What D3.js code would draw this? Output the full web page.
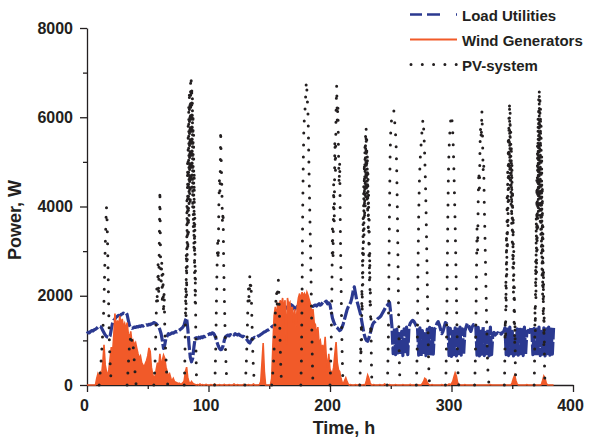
<!DOCTYPE html>
<html>
<head>
<meta charset="utf-8">
<script src="https://cdn.jsdelivr.net/npm/d3@7"></script>
<style>
  body { margin: 0; background: #fff; }
  svg text { font-family: Arial, "Liberation Sans", sans-serif; font-weight: bold; fill: #231f20; }
</style>
</head>
<body>
<div id="chart"></div>
<script>
// hourly load, W (index = hour)
const loadW = [
  1150,1180,1170,1200,1220,1210,1240,1250,1270,1300,
  1320,1310,1280,1220,1170,1120,1090,1070,1060,1100,
  1250,1380,1450,1480,1520,1540,1560,1550,1580,1590,
  1610,1600,1620,1580,1450,1330,1290,1270,1280,1300,
  1290,1310,1300,1320,1310,1330,1320,1340,1330,1350,
  1340,1360,1350,1370,1380,1400,1390,1370,1340,1300,
  1240,1150,1000,820,900,1050,1100,1150,1130,1150,
  1170,1160,1180,1200,1190,1210,1230,1250,1270,1300,
  1350,1450,1500,1250,900,620,520,600,850,1050,
  1060,1040,1070,1050,1080,1060,1090,1080,1100,1120,
  1130,1150,1140,1170,1160,1120,1050,960,880,820,
  790,800,880,1000,1080,1100,1120,1100,1130,1110,
  1140,1120,1150,1130,1120,1140,1110,1100,1080,1090,
  1060,1040,1000,960,940,990,1040,1050,1070,1060,
  1080,1100,1110,1130,1150,1170,1190,1200,1220,1230,
  1250,1270,1300,1320,1330,1400,1500,1580,1620,1650,
  1680,1700,1720,1700,1730,1750,1720,1760,1800,1780,
  1750,1700,1730,1760,1780,1750,1770,1790,1760,1780,
  1800,1770,1790,1750,1770,1800,1760,1780,1790,1770,
  1800,1820,1790,1810,1850,1830,1860,1880,1820,1840,
  1800,1650,1500,1420,1350,1300,1280,1250,1220,1240,
  1300,1380,1480,1580,1680,1750,1800,1850,1950,2100,
  2200,2050,1900,1800,1700,1600,1450,1300,1150,1050,
  1000,980,1050,1150,1250,1350,1400,1420,1450,1480,
  1500,1520,1550,1600,1650,1700,1750,1780,1820,1850,
  1600,
  1300,700,1280,680,1250,720,1150,690,1200,660,1260,700,1300,680,
  1300,1380,1420,1450,1430,1380,1320,
  1300,670,1280,650,1220,690,1150,660,1250,700,1290,650,1270,690,
  1250,1300,1380,1420,1350,1250,1150,1200,1300,1400,1380,
  1300,660,1270,640,1200,680,1280,650,1250,700,1300,670,1260,690,
  1200,1300,1380,1350,1250,1200,1300,1350,1300,
  1320,670,1290,650,1240,690,1300,660,1180,700,1260,650,1300,680,
  1150,1180,1120,1150,1170,1130,1160,1140,1180,1200,
  1280,680,1250,660,1300,700,1200,650,1150,690,1260,670,1290,700,1240,660,1300,690,
  1200,1220,1180,1250,
  1300,680,1270,650,1250,700,1300,660,1200,690,1280,650,1260,700,1300,670,1250,690,1280
];

// hourly wind generator output, W
const windW = [
  0,0,0,0,0,0,0,0,150,250,
  180,280,220,500,900,450,300,200,350,600,
  850,700,1100,1600,1250,1450,1300,1550,1350,1480,
  1300,1380,1250,1400,1150,1050,1200,950,1000,900,
  950,820,700,600,650,500,450,400,480,550,
  650,830,750,400,250,150,200,350,500,400,
  700,450,550,670,600,400,300,200,250,150,
  100,150,80,60,50,30,40,20,30,50,
  100,300,400,150,60,30,80,40,20,10,
  0,10,0,20,0,10,0,0,15,0,
  0,0,10,0,0,20,0,0,0,10,
  0,0,0,15,0,0,0,10,0,0,
  0,20,0,0,10,0,0,0,0,15,
  0,0,0,10,0,0,0,20,0,0,
  0,0,10,80,500,940,300,0,0,0,
  0,0,150,900,1550,1750,1500,1850,1650,1900,
  1800,1950,1700,1900,900,1950,1800,1850,1600,1750,
  1400,1700,1300,1750,1950,2050,1900,2080,2000,2050,
  1950,2080,2000,1900,1800,1600,1700,1400,1350,1100,
  1300,950,1000,800,900,700,1080,600,400,700,
  350,300,250,400,700,960,500,340,300,150,
  60,30,100,160,80,20,0,10,0,0,
  0,10,0,0,15,0,0,0,10,0,
  100,220,150,50,0,0,10,0,0,0,
  0,10,0,0,0,20,0,0,0,10,
  0,0,0,0,10,0,0,0,0,0,
  10,0,0,0,0,0,15,0,0,0,
  0,0,10,0,0,0,30,80,150,130,
  60,20,0,0,10,0,0,0,0,0,
  0,0,10,0,0,0,0,0,20,0,
  30,80,180,270,200,60,0,0,0,0,
  0,10,0,0,0,0,0,0,0,10,
  0,0,0,0,0,0,0,0,0,0,
  0,0,10,0,0,0,0,0,0,0,
  0,0,0,10,0,0,0,0,0,0,
  60,150,220,100,20,0,0,0,0,0,
  0,0,10,0,0,0,0,0,0,0,
  0,0,0,0,10,100,200,150,40,0,
  0,0,0,0,0
];

// PV output by day: start hour, sample step (h), values (W)
const pvStart = [10, 33, 55, 80, 105, 130, 152, 176, 200, 224.5, 247, 271, 295, 319, 343.5, 368];
const pvStep = [0.5, 0.5, 0.5, 0.25, 0.5, 0.5, 0.5, 0.5, 0.5, 0.25, 0.5, 0.5, 0.5, 0.5, 0.25, 0.25];
const pvValues = [
  [0,150,350,500,700,950,1200,1500,1900,2500,3100,3600,4000,3700,3100,2300,1500,900,500,250,0],
  [0,200,450,700,900,1050,980,1100,950,1000,880,700,500,300,100,0],
  [0,200,500,1000,1600,2200,1800,2700,2000,3200,4370,2900,2200,2800,1800,2500,1600,2100,1300,900,600,300,100,0],
  [0,200,500,900,1400,2200,1500,3000,2000,4200,2600,5000,3000,5800,3400,6300,3800,6600,4200,6400,4000,6800,4500,6950,4800,6700,4300,6500,3900,6100,3500,5600,3000,4800,2500,3800,1800,2600,1200,700,300,0],
  [0,300,900,1800,2600,3200,2800,4000,4600,4300,5715,5000,4400,3600,3900,2700,2000,1400,800,400,100,0],
  [0,150,400,800,1300,1900,2200,1800,2465,2100,2300,1700,1200,700,350,150,0],
  [0,100,300,500,800,1200,1600,1900,2100,1800,2200,2350,2000,1500,900,400,100,0],
  [0,600,2000,3800,5000,5800,6000,6200,6500,6800,6600,6300,6000,5200,4400,3700,3000,2200,1300,500,0],
  [0,400,1000,2000,3500,2800,4500,3600,5500,4800,6200,6720,5900,6300,5200,4500,5000,3500,2500,1500,700,200,0],
  [0,200,500,900,600,1400,1000,2200,1600,3000,2200,3800,2800,4500,3300,5000,3700,5400,4000,5600,4200,5760,4400,5500,4100,5200,3800,4800,3400,4300,2900,3700,2300,3000,1700,2200,1100,1500,600,300,0],
  [0,300,1000,2500,4000,5200,5700,5900,6000,6050,6100,6160,6000,5800,5600,5300,4700,3800,2700,1500,600,100,0],
  [0,400,1300,2800,3800,4500,4900,5200,5400,5600,5800,5960,5800,5500,5100,4600,4000,3200,2400,1500,700,200,0],
  [0,300,1200,2600,3800,4800,5300,5600,5800,6000,6050,5900,5700,5300,4800,4200,3600,2900,2100,1300,600,150,0],
  [0,400,1200,2400,3500,3000,4200,4800,4400,5400,5800,5500,6160,5600,4800,5000,4000,3400,2700,2000,1300,700,300,100,0],
  [0,300,800,1500,1000,2400,1700,3400,2400,4200,3000,4900,3500,5600,4000,6000,4500,6350,4800,6100,4400,5800,4000,5400,3600,5000,3200,4400,2600,3800,2000,3000,1400,2200,900,1400,500,200,0],
  [0,300,900,1800,1200,2800,1900,3800,2500,4600,3000,5400,3500,6000,3800,6400,4200,6650,4000,6500,3600,6200,3300,5800,2900,5200,2400,4500,2000,3600,1500,2600,900,1600,500,200,0]
];

const yTicks = [0, 2000, 4000, 6000, 8000];
const yMinor = [1000, 3000, 5000, 7000];
const xTicks = [0, 100, 200, 300, 400];
const xMinor = [50, 150, 250, 350];
const legendLabels = ['Load Utilities', 'Wind Generators', 'PV-system'];

const blue = '#2b3990', orange = '#f15a29', ink = '#231f20';

const svg = d3.select('#chart').append('svg')
  .attr('width', 591).attr('height', 441);

const x = d3.scaleLinear().domain([0, 400]).range([87, 573]);
const y = d3.scaleLinear().domain([0, 8000]).range([385, 28]);

// axes
const styleAxis = g => {
  g.selectAll('path, line').attr('stroke', ink).attr('stroke-width', 1.3);
  g.selectAll('text').style('font-size', '16px').attr('fill', ink);
};

svg.append('g').attr('transform', 'translate(87,0)')
  .call(d3.axisLeft(y).tickValues(yTicks).tickFormat(d3.format('d'))
    .tickSize(7).tickPadding(7).tickSizeOuter(0))
  .call(styleAxis);
svg.append('g').attr('transform', 'translate(87,0)')
  .call(d3.axisLeft(y).tickValues(yMinor).tickSize(4).tickFormat(''))
  .call(g => g.select('.domain').remove())
  .call(styleAxis);

svg.append('g').attr('transform', 'translate(0,385)')
  .call(d3.axisBottom(x).tickValues(xTicks).tickSize(7).tickPadding(8).tickSizeOuter(0))
  .call(styleAxis)
  .call(g => g.selectAll('text').attr('dx', -3));
svg.append('g').attr('transform', 'translate(0,385)')
  .call(d3.axisBottom(x).tickValues(xMinor).tickSize(4).tickFormat(''))
  .call(g => g.select('.domain').remove())
  .call(styleAxis);

svg.append('text')
  .attr('transform', 'translate(21,220) rotate(-90)')
  .attr('text-anchor', 'middle')
  .style('font-size', '18px')
  .text('Power, W');
svg.append('text')
  .attr('x', 344).attr('y', 434)
  .attr('text-anchor', 'middle')
  .style('font-size', '18px')
  .text('Time, h');

// series
const hourLine = d3.line().x((d, i) => x(i)).y(d => y(d));

svg.append('path')
  .datum(loadW)
  .attr('d', hourLine)
  .attr('fill', 'none')
  .attr('stroke', blue)
  .attr('stroke-width', 3.2)
  .attr('stroke-linejoin', 'round')
  .attr('stroke-dasharray', '14,2.5');

const windArea = d3.area().x((d, i) => x(i)).y0(y(0)).y1(d => y(d));
svg.append('path')
  .datum(windW)
  .attr('d', windArea)
  .attr('fill', orange);
svg.append('path')
  .datum(windW)
  .attr('d', hourLine)
  .attr('fill', 'none')
  .attr('stroke', orange)
  .attr('stroke-width', 1.6);

const pvLine = d3.line().x(d => x(d[0])).y(d => y(d[1]));
const pvDays = pvValues.map((vals, j) =>
  vals.map((v, k) => [pvStart[j] + k * pvStep[j], v]));

svg.append('g').selectAll('path')
  .data(pvDays)
  .join('path')
  .attr('d', pvLine)
  .attr('fill', 'none')
  .attr('stroke', ink)
  .attr('stroke-width', 3)
  .attr('stroke-linecap', 'round')
  .attr('stroke-dasharray', '0,12');

// legend
const legend = svg.append('g');
const legendY = [14.5, 39.5, 64.5];

legend.append('line')
  .attr('x1', 410).attr('x2', 457).attr('y1', legendY[0]).attr('y2', legendY[0])
  .attr('stroke', blue).attr('stroke-width', 2.7)
  .attr('stroke-dasharray', '12,5,13,16,2');
legend.append('line')
  .attr('x1', 410).attr('x2', 457).attr('y1', legendY[1]).attr('y2', legendY[1])
  .attr('stroke', orange).attr('stroke-width', 2.2);
legend.append('line')
  .attr('x1', 411).attr('x2', 457).attr('y1', legendY[2]).attr('y2', legendY[2])
  .attr('stroke', ink).attr('stroke-width', 3)
  .attr('stroke-linecap', 'round')
  .attr('stroke-dasharray', '0,11.3');

legend.selectAll('text')
  .data(legendLabels)
  .join('text')
  .attr('x', 462)
  .attr('y', (d, i) => legendY[i] + 6)
  .style('font-size', '15px')
  .text(d => d);
</script>
</body>
</html>
